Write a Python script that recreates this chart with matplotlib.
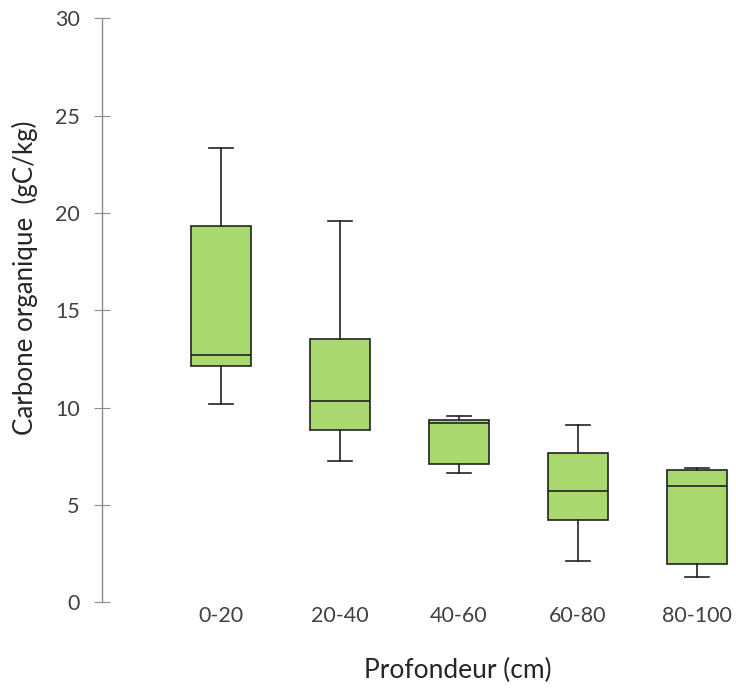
import matplotlib
matplotlib.use("Agg")
import matplotlib.pyplot as plt

categories = ["0-20", "20-40", "40-60", "60-80", "80-100"]
whisker_low = [10.18, 7.27, 6.66, 2.12, 1.31]
q1 = [12.14, 8.83, 7.10, 4.24, 1.98]
median = [12.69, 10.32, 9.19, 5.73, 5.97]
q3 = [19.34, 13.51, 9.38, 7.67, 6.78]
whisker_high = [23.32, 19.60, 9.58, 9.09, 6.90]
y_ticks = [0, 5, 10, 15, 20, 25, 30]

plt.rcParams['font.family'] = ['Lato', 'DejaVu Sans']

fig = plt.figure(figsize=(7.36, 6.89), dpi=100)
ax = fig.add_axes([102/736, 86.7/689, 634/736, 584/689])

stats = []
for i, c in enumerate(categories):
    stats.append(dict(label=c, whislo=whisker_low[i], q1=q1[i], med=median[i],
                      q3=q3[i], whishi=whisker_high[i], fliers=[]))

edge = "#222222"
ax.bxp(stats, positions=range(1, len(categories) + 1), widths=0.5,
       capwidths=0.2, patch_artist=True, showfliers=False,
       boxprops=dict(facecolor="#A8D86E", edgecolor=edge, linewidth=1.2),
       medianprops=dict(color=edge, linewidth=1.2),
       whiskerprops=dict(color=edge, linewidth=1.2),
       capprops=dict(color=edge, linewidth=1.2))

ax.set_xlim(0, 634/119)
ax.set_ylim(0, 30)
ax.set_yticks(y_ticks)
for s in ["top", "right", "bottom"]:
    ax.spines[s].set_visible(False)
ax.spines["left"].set_color("#8c8c8c")
ax.spines["left"].set_linewidth(1.0)
ax.tick_params(axis="y", direction="inout", length=12, width=0.8, color="#8c8c8c",
               pad=10, labelsize=15.5, labelcolor="#404040")
ax.tick_params(axis="x", length=0, pad=3, labelsize=15.5, labelcolor="#404040")
ax.set_xticklabels(categories)

fig.text(458/736, 1 - 670/689, "Profondeur (cm)", ha="center", va="center",
         fontsize=19, color="#262626")
fig.text(25/736, 1 - 277.5/689, "Carbone organique  (gC/kg)", ha="center", va="center",
         rotation=90, fontsize=18.6, color="#262626")

fig.savefig("out.png", dpi=100, facecolor="white")
